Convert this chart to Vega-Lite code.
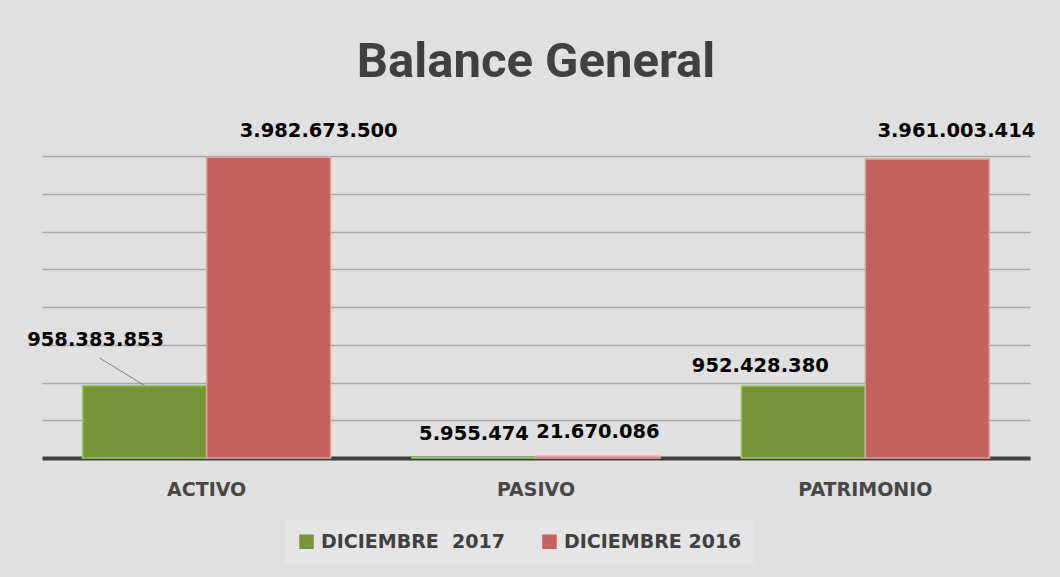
{
  "$schema": "https://vega.github.io/schema/vega-lite/v6.json",
  "width": 988,
  "height": 302,
  "autosize": {"type": "none"},
  "padding": {"left": 42, "top": 156, "right": 30, "bottom": 119},
  "background": "#e0e0e0",
  "title": {
    "text": "Balance General",
    "font": "Roboto, sans-serif",
    "fontSize": 49,
    "fontWeight": "bold",
    "color": "#404040",
    "anchor": "middle",
    "offset": 34
  },
  "data": {
    "values": [
      {"categoria": "ACTIVO", "serie": "DICIEMBRE\u00a0 2017", "valor": 958383853},
      {"categoria": "ACTIVO", "serie": "DICIEMBRE 2016", "valor": 3982673500},
      {"categoria": "PASIVO", "serie": "DICIEMBRE\u00a0 2017", "valor": 5955474},
      {"categoria": "PASIVO", "serie": "DICIEMBRE 2016", "valor": 21670086},
      {"categoria": "PATRIMONIO", "serie": "DICIEMBRE\u00a0 2017", "valor": 952428380},
      {"categoria": "PATRIMONIO", "serie": "DICIEMBRE 2016", "valor": 3961003414}
    ]
  },
  "encoding": {
    "x": {
      "field": "categoria",
      "type": "nominal",
      "sort": ["ACTIVO", "PASIVO", "PATRIMONIO"],
      "scale": {"paddingInner": 0.247, "paddingOuter": 0.1235},
      "axis": {
        "title": null,
        "labelAngle": 0,
        "labelFont": "DejaVu Sans",
        "labelFontWeight": "bold",
        "labelFontSize": 19,
        "labelColor": "#474747",
        "labelPadding": 22,
        "ticks": false,
        "domainColor": "#404040",
        "domainWidth": 4,
        "grid": false
      }
    },
    "xOffset": {
      "field": "serie",
      "type": "nominal",
      "sort": ["DICIEMBRE\u00a0 2017", "DICIEMBRE 2016"],
      "scale": {"paddingInner": 0, "paddingOuter": 0}
    },
    "y": {
      "field": "valor",
      "type": "quantitative",
      "scale": {"domain": [0, 4000000000], "nice": false},
      "axis": {
        "title": null,
        "labels": false,
        "ticks": false,
        "domain": false,
        "values": [0, 500000000, 1000000000, 1500000000, 2000000000, 2500000000, 3000000000, 3500000000, 4000000000],
        "gridColor": "#a8a8a8",
        "gridWidth": 1.5
      }
    }
  },
  "layer": [
    {
      "mark": {"type": "bar", "strokeWidth": 1.5},
      "encoding": {
        "color": {
          "field": "serie",
          "type": "nominal",
          "sort": ["DICIEMBRE\u00a0 2017", "DICIEMBRE 2016"],
          "scale": {"range": ["#77933c", "#c4625f"]},
          "legend": {
            "title": null,
            "orient": "none",
            "legendX": 243,
            "legendY": 364,
            "direction": "horizontal",
            "fillColor": "#e5e5e5",
            "padding": 12,
            "symbolType": "square",
            "symbolSize": 210,
            "symbolStrokeWidth": 1.5,
            "labelFont": "DejaVu Sans",
            "labelFontWeight": "bold",
            "labelFontSize": 19,
            "labelColor": "#404040",
            "labelLimit": 400,
            "columnPadding": 35,
            "labelOffset": 5
          }
        },
        "stroke": {
          "field": "serie",
          "type": "nominal",
          "sort": ["DICIEMBRE\u00a0 2017", "DICIEMBRE 2016"],
          "scale": {"range": ["#92d050", "#e6a09e"]},
          "legend": null
        }
      }
    },
    {
      "transform": [{"filter": "datum.categoria == 'ACTIVO' && datum.valor < 2000000000"}],
      "mark": {"type": "rule", "color": "#808080", "strokeWidth": 1, "x2Offset": -107},
      "encoding": {
        "x2": {"field": "categoria"},
        "y2": {"datum": 1324500000}
      }
    },
    {
      "transform": [{"filter": "datum.categoria == 'ACTIVO' && datum.valor > 2000000000"}],
      "mark": {"type": "text", "font": "DejaVu Sans", "fontWeight": "bold", "fontSize": 19.5, "color": "#000000", "baseline": "middle", "dx": 50, "dy": -26},
      "encoding": {"text": {"field": "valor", "type": "quantitative", "format": ",.0f"}}
    },
    {
      "transform": [{"filter": "datum.categoria == 'PATRIMONIO' && datum.valor > 2000000000"}],
      "mark": {"type": "text", "font": "DejaVu Sans", "fontWeight": "bold", "fontSize": 19.5, "color": "#000000", "baseline": "middle", "dx": 29, "dy": -28},
      "encoding": {"text": {"field": "valor", "type": "quantitative", "format": ",.0f"}}
    },
    {
      "transform": [{"filter": "datum.categoria == 'ACTIVO' && datum.valor < 2000000000"}],
      "mark": {"type": "text", "font": "DejaVu Sans", "fontWeight": "bold", "fontSize": 19.5, "color": "#000000", "baseline": "middle", "dx": -49, "dy": -46},
      "encoding": {"text": {"field": "valor", "type": "quantitative", "format": ",.0f"}}
    },
    {
      "transform": [{"filter": "datum.categoria == 'PATRIMONIO' && datum.valor < 2000000000"}],
      "mark": {"type": "text", "font": "DejaVu Sans", "fontWeight": "bold", "fontSize": 19.5, "color": "#000000", "baseline": "middle", "dx": -43, "dy": -20},
      "encoding": {"text": {"field": "valor", "type": "quantitative", "format": ",.0f"}}
    },
    {
      "transform": [{"filter": "datum.categoria == 'PASIVO'"}],
      "mark": {"type": "text", "font": "DejaVu Sans", "fontWeight": "bold", "fontSize": 19.5, "color": "#000000", "baseline": "middle", "dy": -24},
      "encoding": {"text": {"field": "valor", "type": "quantitative", "format": ",.0f"}}
    }
  ],
  "config": {
    "locale": {
      "number": {"decimal": ",", "thousands": ".", "grouping": [3], "currency": ["$", ""]}
    },
    "view": {"stroke": null}
  }
}
